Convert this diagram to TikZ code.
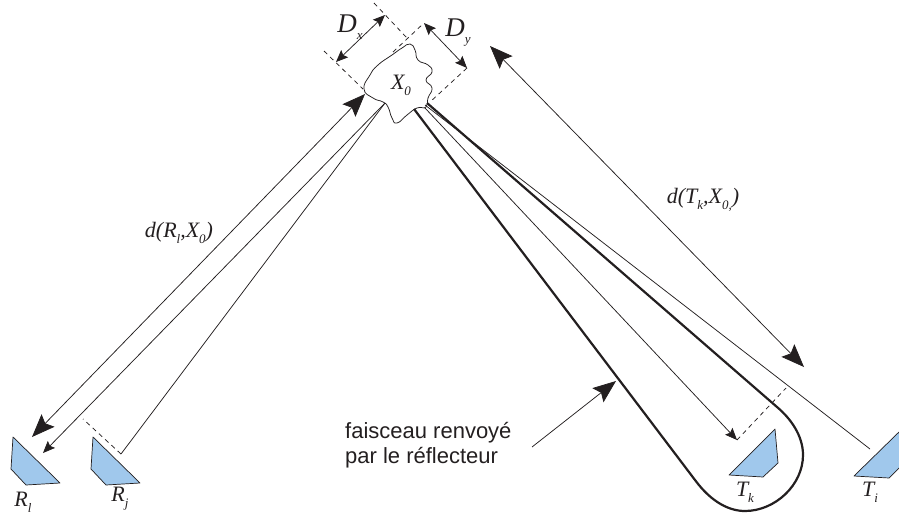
\documentclass[tikz,border=0pt]{standalone}
\usepackage{fontspec}
\setmainfont{Liberation Serif}
\newfontfamily\labelsans{Liberation Sans}
\usetikzlibrary{arrows.meta}
\definecolor{ink}{HTML}{231F20}
\definecolor{reflblue}{HTML}{A0C8EC}
\newcommand{\lowsub}[1]{\raisebox{-0.26em}{\fontsize{13}{13}\selectfont #1}}
\tikzset{
  thinline/.style={draw=ink,line width=0.75pt},
  thickline/.style={draw=ink,line width=2.2pt},
  dashline/.style={draw=ink,line width=0.75pt,dash pattern=on 4.5pt off 4pt},
  reflector/.style={draw=ink,line width=0.7pt,fill=reflblue,line join=round},
  bighead/.tip={Stealth[length=23pt,width=18pt,inset=4pt]},
  smallhead/.tip={Stealth[length=12pt,width=10pt,inset=2pt]},
  mathlabel/.style={inner sep=0pt,text=ink,font=\fontsize{22}{22}\selectfont\itshape},
  dimlabel/.style={inner sep=0pt,text=ink,font=\fontsize{27}{27}\selectfont\itshape},
  sanslabel/.style={inner sep=0pt,text=ink,align=left,anchor=north west,font=\labelsans\fontsize{22}{25}\selectfont}
}
\begin{document}
\begin{tikzpicture}[x=1pt,y=-1pt]
\clip (0,0) rectangle (899,520);
% named end points
\coordinate (dxa) at (336,62);  \coordinate (dxb) at (385,15);
\coordinate (dya) at (424,23);  \coordinate (dyb) at (467,68);
\coordinate (dxa0) at (324,51); \coordinate (dxa1) at (363,89);
\coordinate (dxb0) at (374,3);  \coordinate (dxb1) at (407,38);
\coordinate (dya1) at (393,52); \coordinate (dyb1) at (430,102);
\coordinate (rlT) at (365,94);  \coordinate (rlB) at (32,437);
\coordinate (rmT) at (385,103); \coordinate (rmB) at (43,453);
\coordinate (rjB) at (121,454); \coordinate (rjD) at (83,419);
\coordinate (tkT) at (425,108); \coordinate (tkB) at (737,440); \coordinate (tkD) at (786,388);
\coordinate (tiT) at (425,105); \coordinate (tiB) at (870,449);
\coordinate (dtT) at (490,46);  \coordinate (dtB) at (804,367);
\coordinate (beamL) at (414,109); \coordinate (beamLb) at (695,480);
\coordinate (beamRb) at (777,407); \coordinate (beamR) at (427,103);
\coordinate (fa) at (532,447);  \coordinate (fb) at (616,381);

% object
\draw[thinline,line join=round] plot[smooth cycle,tension=0.9] coordinates {
 (364,89) (370,75) (378,65) (392,55) (402,48) (410,44) (415,50) (418,60)
 (428,65) (432,72) (426,80) (432,88) (428,98) (426,107) (417,108) (407,115)
 (397,123) (392,118) (388,107) (383,102) (373,98)};
\node[mathlabel] (x0) at (401,85) {X\lowsub{0}};

% dimensions
\draw[dashline] (dxa0) -- (dxa1);
\draw[dashline] (dxb0) -- (dxb1);
\draw[dashline] (dya1) -- (dya);
\draw[dashline] (dyb) -- (dyb1);
\draw[thinline,{smallhead}-{smallhead}] (dxa) -- (dxb);
\draw[thinline,{smallhead}-{smallhead}] (dya) -- (dyb);
\node[dimlabel] (dx) at (350,27) {D\lowsub{x}};
\node[dimlabel] (dy) at (458,33) {D\lowsub{y}};

% receiver rays
\draw[thinline,{bighead}-{bighead}] (rlT) -- (rlB);
\draw[thinline,-{smallhead}] (rmT) -- (rmB);
\draw[thinline] (rmT) -- (rjB);
\draw[dashline] (rjB) -- (rjD);

% transmitter rays and beam
\draw[thinline,-{smallhead}] (tkT) -- (tkB);
\draw[dashline] (tkB) -- (tkD);
\draw[thinline] (tiT) -- (tiB);
\draw[thinline,{bighead}-{bighead}] (dtT) -- (dtB);
\draw[thickline,line join=round] (beamL) -- (beamLb)
  .. controls (712,503) and (730,511) .. (745,511)
  .. controls (775,511) and (803,485) .. (803,455)
  .. controls (803,435) and (790,418) .. (beamRb) -- (beamR);
\draw[thinline,-{bighead}] (fa) -- (fb);

% reflectors
\draw[reflector] (13,437) -- (11,469) -- (26,485) -- (60,483) -- cycle;
\draw[reflector] (93,437) -- (91,469) -- (106,485) -- (140,483) -- cycle;
\draw[reflector] (775,429) -- (778,463) -- (763,477) -- (729,475) -- cycle;
\draw[reflector] (899,432) -- (854,476) -- (889,478) -- (905,462) -- cycle;

% labels
\node[mathlabel] (rl) at (23,502) {R\lowsub{l}};
\node[mathlabel] (rj) at (120,499) {R\lowsub{j}};
\node[mathlabel] (tk) at (745,492) {T\lowsub{k}};
\node[mathlabel] (ti) at (870,492) {T\lowsub{i}};
\node[mathlabel] (drx) at (179,233) {d(R\lowsub{l},X\lowsub{0})};
\node[mathlabel] (dtx) at (703,200) {d(T\lowsub{k},X\lowsub{0,})};
\node[sanslabel] (beamtext) at (345,422) {faisceau renvoyé\\par le réflecteur};
\end{tikzpicture}
\end{document}
